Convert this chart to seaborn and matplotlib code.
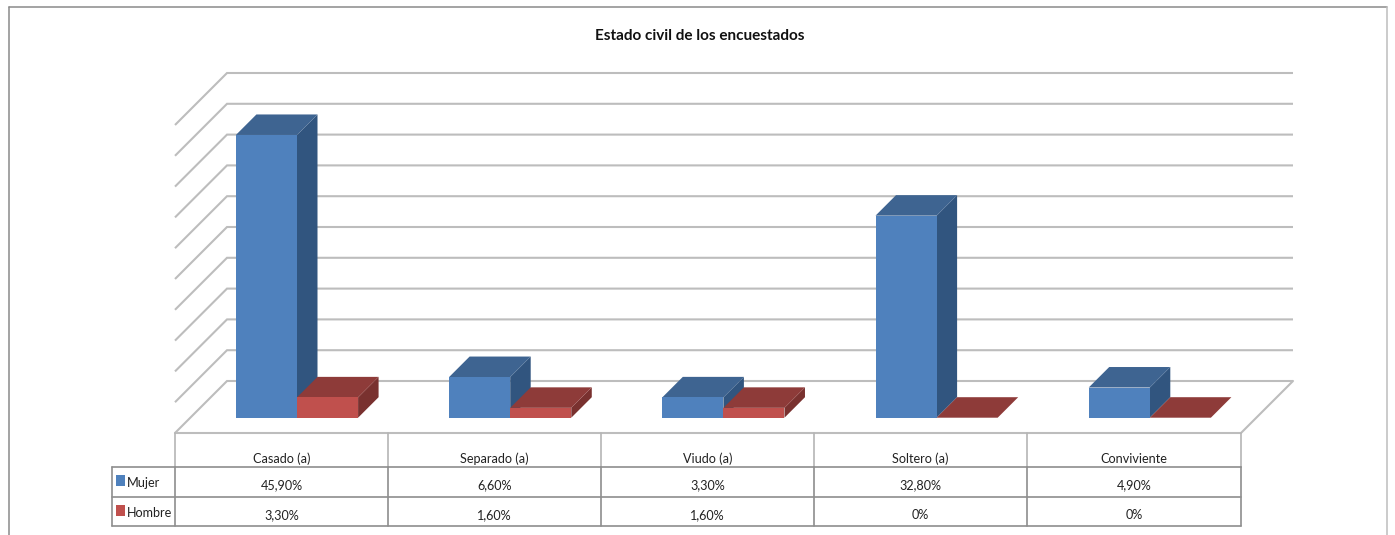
import matplotlib
matplotlib.use("Agg")
import matplotlib.pyplot as plt
from matplotlib import font_manager
from matplotlib.patches import Polygon, Rectangle
import pandas as pd
import seaborn as sns

# ---- data ----
categories = ["Casado (a)", "Separado (a)", "Viudo (a)", "Soltero (a)", "Conviviente"]
mujer = [45.9, 6.6, 3.3, 32.8, 4.9]
hombre = [3.3, 1.6, 1.6, 0, 0]
mujer_labels = ["45,90%", "6,60%", "3,30%", "32,80%", "4,90%"]
hombre_labels = ["3,30%", "1,60%", "1,60%", "0%", "0%"]
series_names = ["Mujer", "Hombre"]
grid_values = list(range(0, 55, 5))
title = "Estado civil de los encuestados"

# ---- style ----
W, H = 1395, 535
installed = {f.name for f in font_manager.fontManager.ttflist}
NARROW = "Liberation Sans Narrow" in installed
FONT = "Liberation Sans Narrow" if NARROW else "Lato"
fs = 10.4 if NARROW else 9.1
title_fs = 12.6 if NARROW else 11.0
FRONT = {"Mujer": "#4F81BD", "Hombre": "#C0504D"}
TOP = {"Mujer": "#3E6491", "Hombre": "#8E3B39"}
SIDE = {"Mujer": "#31557F", "Hombre": "#79312F"}
GRID = "#BDBDBD"
TABLE = "#8E8E8E"

sns.set_theme(style="white")
plt.rcParams["font.family"] = [FONT, "DejaVu Sans"]

fig = plt.figure(figsize=(W / 100, H / 100), dpi=100, facecolor="white")

# pixel-space layer: frame, walls and data table
bg = fig.add_axes([0, 0, 1, 1], zorder=0)
bg.set_xlim(0, W)
bg.set_ylim(H, 0)
bg.axis("off")

# chart frame
bg.plot([9, 9], [H + 5, 7], color="#8A8A8A", lw=1.1, clip_on=False)
bg.plot([9, 1387], [7, 7], color="#8A8A8A", lw=1.1, clip_on=False)
bg.plot([1387, 1387], [7, H + 5], color="#BDBDBD", lw=1.1, clip_on=False)

# walls
PX_PER_UNIT = 6.16
BACK0 = 381
X_FRONT, X_BACK, X_BACK_R, X_FRONT_R = 175, 227, 1293, 1241
for v in grid_values:
    y = BACK0 - v * PX_PER_UNIT
    bg.plot([X_FRONT, X_BACK, X_BACK_R], [y + 52, y, y], color=GRID, lw=1.5,
            solid_joinstyle="miter", solid_capstyle="butt")
bg.plot([X_FRONT, X_FRONT_R, X_BACK_R], [433, 433, BACK0], color=GRID, lw=1.5,
        solid_joinstyle="miter")

# data table
cols = [175, 388, 601, 814, 1027, 1241]
rows = [433, 467, 497, 526]
for x in cols:
    bg.plot([x, x], [rows[0], rows[1]], color="#B5B5B5", lw=1.2)
    bg.plot([x, x], [rows[1], rows[3]], color=TABLE, lw=1.2)
bg.plot([112, 112], [rows[1], rows[3]], color=TABLE, lw=1.2)
for y in rows[1:]:
    bg.plot([112, 1241], [y, y], color=TABLE, lw=1.2)

for i, cat in enumerate(categories):
    cx = (cols[i] + cols[i + 1]) / 2
    bg.text(cx, 458, cat, ha="center", va="center_baseline", fontsize=fs, color="#222222")
    bg.text(cx, 484, mujer_labels[i], ha="center", va="center_baseline", fontsize=fs, color="#222222")
    bg.text(cx, 514, hombre_labels[i], ha="center", va="center_baseline", fontsize=fs, color="#222222")

for name, y in zip(series_names, [481, 511]):
    bg.add_patch(Rectangle((116, y - 6), 9, 11, color=FRONT[name], lw=0))
    bg.text(127, y + 1, name, ha="left", va="center_baseline", fontsize=fs, color="#222222")

bg.text(700, 34, title, ha="center", va="center_baseline", fontsize=title_fs, fontweight="bold", color="#111111")

# bars
df = pd.DataFrame({
    "categoria": categories * 2,
    "serie": [series_names[0]] * len(categories) + [series_names[1]] * len(categories),
    "valor": mujer + hombre,
})
SHIFT = 15.4
left, right = X_FRONT + SHIFT, X_FRONT_R + SHIFT
y_zero, y_top = 417.7, 417.7 - 50 * PX_PER_UNIT
ax = fig.add_axes([left / W, 1 - y_zero / H, (right - left) / W, (y_zero - y_top) / H], zorder=1)
ax.patch.set_alpha(0)
sns.barplot(data=df, x="categoria", y="valor", hue="serie", hue_order=series_names,
            palette=FRONT, width=0.573, gap=0, dodge=True, saturation=1,
            linewidth=0, legend=False, ax=ax)
ax.set_xlim(-0.5, len(categories) - 0.5)
ax.set_ylim(0, 50)
ax.axis("off")

# extrude every bar drawn by seaborn to give it the 3-D depth
dx = 20.5 / ((right - left) / len(categories))
dy = 20.5 / PX_PER_UNIT
n = len(categories)
bars = list(ax.patches)[:2 * n]
for idx, bar in enumerate(bars):
    name = series_names[idx // n]
    x0, w, h = bar.get_x(), bar.get_width(), bar.get_height()
    z = 2 + idx
    bar.set_zorder(z + 0.2)
    ax.add_patch(Polygon([(x0 + w, 0), (x0 + w + dx, dy), (x0 + w + dx, h + dy), (x0 + w, h)],
                         closed=True, color=SIDE[name], lw=0, zorder=z, clip_on=False))
    ax.add_patch(Polygon([(x0, h), (x0 + dx, h + dy), (x0 + w + dx, h + dy), (x0 + w, h)],
                         closed=True, color=TOP[name], lw=0, zorder=z + 0.1, clip_on=False))

fig.savefig("out.png", dpi=100, facecolor="white")
